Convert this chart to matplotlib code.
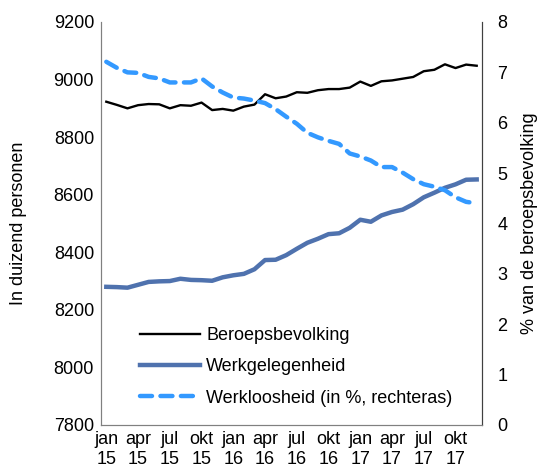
import matplotlib.pyplot as plt
import numpy as np

plt.rcParams['font.family'] = ['Liberation Sans', 'DejaVu Sans']

# maandelijkse reeksen jan 2015 - dec 2017
beroepsbevolking = [8923, 8912, 8900, 8911, 8915, 8914, 8900, 8911, 8909, 8920, 8894, 8898,
                    8892, 8906, 8913, 8949, 8935, 8941, 8956, 8954, 8963, 8967, 8967, 8972,
                    8993, 8978, 8994, 8997, 9003, 9009, 9029, 9034, 9053, 9040, 9052, 9048]
werkgelegenheid = [8280, 8279, 8277, 8287, 8297, 8299, 8300, 8308, 8304, 8303, 8301, 8313,
                   8320, 8325, 8341, 8373, 8374, 8390, 8412, 8433, 8447, 8463, 8466, 8485,
                   8513, 8506, 8528, 8540, 8548, 8567, 8591, 8607, 8624, 8636, 8652, 8653]
werkloosheid = [7.21, 7.09, 7.00, 6.99, 6.91, 6.88, 6.80, 6.80, 6.80, 6.88, 6.72, 6.60,
                6.50, 6.48, 6.44, 6.39, 6.27, 6.12, 5.98, 5.80, 5.71, 5.64, 5.58, 5.39,
                5.33, 5.25, 5.12, 5.12, 5.01, 4.88, 4.78, 4.73, 4.66, 4.52, 4.43, 4.40]
tick_labels = ['jan\n15', 'apr\n15', 'jul\n15', 'okt\n15', 'jan\n16', 'apr\n16',
               'jul\n16', 'okt\n16', 'jan\n17', 'apr\n17', 'jul\n17', 'okt\n17']

x = np.arange(len(beroepsbevolking))

fig = plt.figure(figsize=(5.39, 4.75), dpi=100)
ax = fig.add_axes([0.1874, 0.1053, 0.7068, 0.8484])
ax2 = ax.twinx()

l1, = ax.plot(x, beroepsbevolking, color='black', lw=1.7, label='Beroepsbevolking')
l2, = ax.plot(x, werkgelegenheid, color='#4F72AE', lw=3.2, label='Werkgelegenheid')
l3, = ax2.plot(x, werkloosheid, color='#3399FF', lw=3.2, dashes=(2.7, 1.9),
               dash_capstyle='round', label='Werkloosheid (in %, rechteras)')

ax.set_xlim(-0.5, 35.5)
ax.set_ylim(7800, 9200)
ax.set_yticks(np.arange(7800, 9201, 200))
ax2.set_ylim(0, 8)
ax2.set_yticks(np.arange(0, 9, 1))
ax.set_xticks(x[::3])
ax.set_xticklabels(tick_labels, linespacing=1.3)

for a in (ax, ax2):
    a.tick_params(length=0, labelsize=13)
    a.spines['top'].set_visible(False)
    for s in ('left', 'bottom'):
        a.spines[s].set_color('#808080')
    a.spines['right'].set_color('#404040')
ax.tick_params(axis='y', pad=5)
ax.tick_params(axis='x', pad=4)
ax2.tick_params(axis='y', pad=11)

ax.set_ylabel('In duizend personen', fontsize=13, labelpad=19)
ax2.set_ylabel('% van de beroepsbevolking', fontsize=13, rotation=90, labelpad=10)

ax.legend(handles=[l1, l2, l3], loc='lower left', bbox_to_anchor=(0.06, 0.005),
          frameon=False, fontsize=13, handlelength=3.3, handletextpad=0.35,
          labelspacing=0.8)

fig.savefig('out.png', dpi=100)
